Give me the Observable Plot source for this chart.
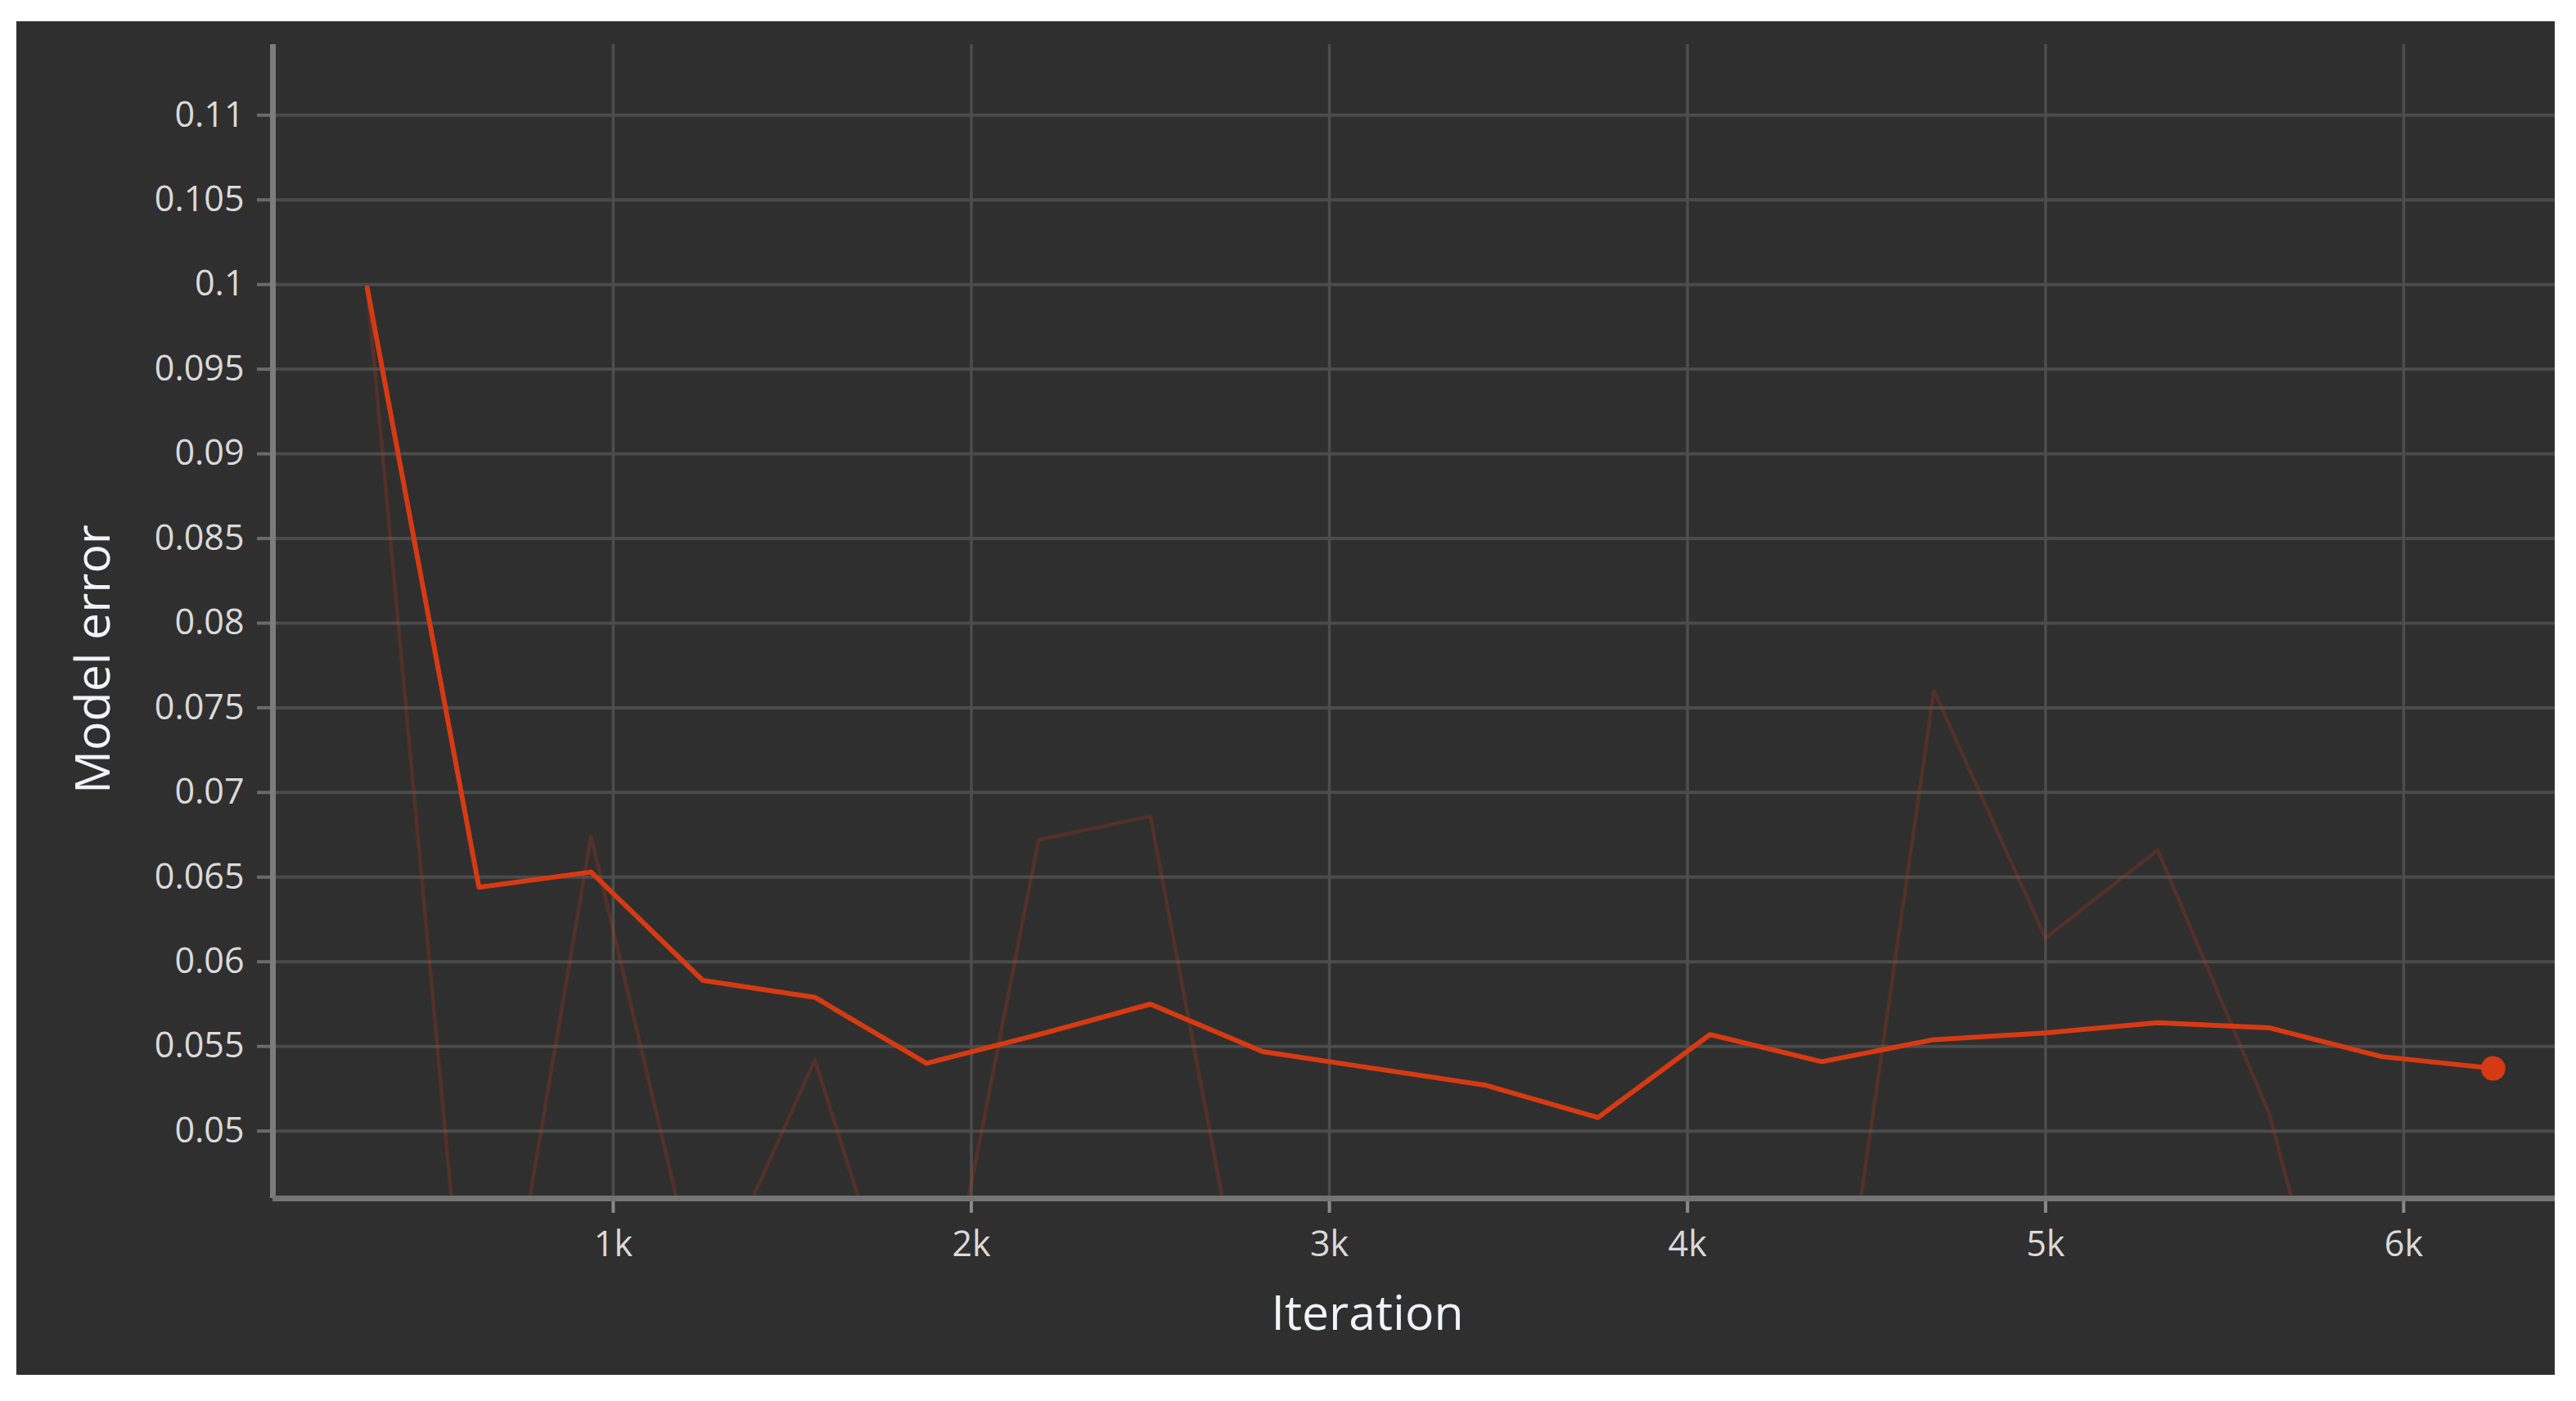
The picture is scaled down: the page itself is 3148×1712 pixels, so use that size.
<!DOCTYPE html>
<html>
<head>
<meta charset="utf-8">
<script src="https://cdn.jsdelivr.net/npm/d3@7"></script>
<script src="https://cdn.jsdelivr.net/npm/@observablehq/plot@0.6"></script>
<style>
  html, body { margin: 0; padding: 0; background: #ffffff; }
  #chart { position: absolute; left: 20px; top: 26px; }
</style>
</head>
<body>
<div id="chart"></div>
<script>
// ---- data ----
const iterations = [313, 625, 938, 1250, 1563, 1875, 2188, 2500, 2813, 3125,
                    3438, 3750, 4063, 4375, 4688, 5000, 5313, 5625, 5938, 6250];
const smoothedError = [0.0998, 0.0644, 0.0653, 0.0589, 0.0579, 0.0540, 0.0557, 0.0575, 0.0547, 0.0537,
                       0.0527, 0.0508, 0.0557, 0.0541, 0.0554, 0.0558, 0.0564, 0.0561, 0.0544, 0.0537];
const rawError = [0.0998, 0.0284, 0.0674, 0.0395, 0.0542, 0.0334, 0.0672, 0.0686, 0.0335, 0.0380,
                  0.0350, 0.0310, 0.0400, 0.0300, 0.0760, 0.0614, 0.0666, 0.0510, 0.0260, 0.0360];
const yTicks = [0.05, 0.055, 0.06, 0.065, 0.07, 0.075, 0.08, 0.085, 0.09, 0.095, 0.1, 0.105, 0.11];
const yTickLabels = ["0.05", "0.055", "0.06", "0.065", "0.07", "0.075", "0.08", "0.085", "0.09", "0.095", "0.1", "0.105", "0.11"];
const xTicks = [1000, 2000, 3000, 4000, 5000, 6000];
const xTickLabels = ["1k", "2k", "3k", "4k", "5k", "6k"];
const xTitle = "Iteration";
const yTitle = "Model error";

// ---- build table ----
const rows = iterations.map((it, i) => ({it, smooth: smoothedError[i], raw: rawError[i]}));
const yLabel = new Map(yTicks.map((t, i) => [t, yTickLabels[i]]));
const xLabel = new Map(xTicks.map((t, i) => [t, xTickLabels[i]]));

const xDomain = [49.6, 6423];
const yDomain = [0.04602, 0.11417];
const lineColor = "#d63a12";
const font = "'Open Sans', 'DejaVu Sans', sans-serif";

const chart = Plot.plot({
  width: 3102,
  height: 1654,
  marginLeft: 313,
  marginTop: 28,
  marginBottom: 216,
  marginRight: 0,
  x: {domain: xDomain},
  y: {domain: yDomain},
  style: {background: "#2f2f2f", fontFamily: font, fontSize: "43px", color: "#d8d8d8", overflow: "visible"},
  marks: [
    Plot.gridY(yTicks, {stroke: "#4b4b4b", strokeOpacity: 1, strokeWidth: 4}),
    Plot.gridX(xTicks, {stroke: "#4d4d4d", strokeOpacity: 1, strokeWidth: 3.5}),
    Plot.axisY(yTicks, {
      tickSize: 19, tickPadding: 16, stroke: "#6a6a6a", strokeWidth: 4,
      fill: "#dadada", fontSize: 43, label: null,
      tickFormat: d => yLabel.get(d)
    }),
    Plot.axisX(xTicks, {
      tickSize: 18, tickPadding: 22, stroke: "#8a8a8a", strokeWidth: 4,
      fill: "#dadada", fontSize: 43, label: null,
      tickFormat: d => xLabel.get(d)
    }),
    Plot.line(rows, {x: "it", y: "raw", stroke: lineColor, strokeOpacity: 0.22, strokeWidth: 4.5, clip: true}),
    Plot.ruleX([xDomain[0]], {stroke: "#7c7c7c", strokeWidth: 7}),
    Plot.ruleY([yDomain[0]], {stroke: "#747474", strokeWidth: 7}),
    Plot.line(rows, {x: "it", y: "smooth", stroke: lineColor, strokeWidth: 6}),
    Plot.dot(rows, Plot.selectLast({x: "it", y: "smooth", fill: lineColor, r: 15})),
    Plot.text([xTitle], {frameAnchor: "bottom", textAnchor: "middle", dy: 142, dx: -57, fontSize: 59, fill: "#f0f4f8", lineAnchor: "middle"}),
    Plot.text([yTitle], {frameAnchor: "left", textAnchor: "middle", dx: -218, dy: 46, rotate: -90, fontSize: 59, fill: "#f0f4f8", lineAnchor: "middle"})
  ]
});
document.getElementById("chart").appendChild(chart);
</script>
</body>
</html>
